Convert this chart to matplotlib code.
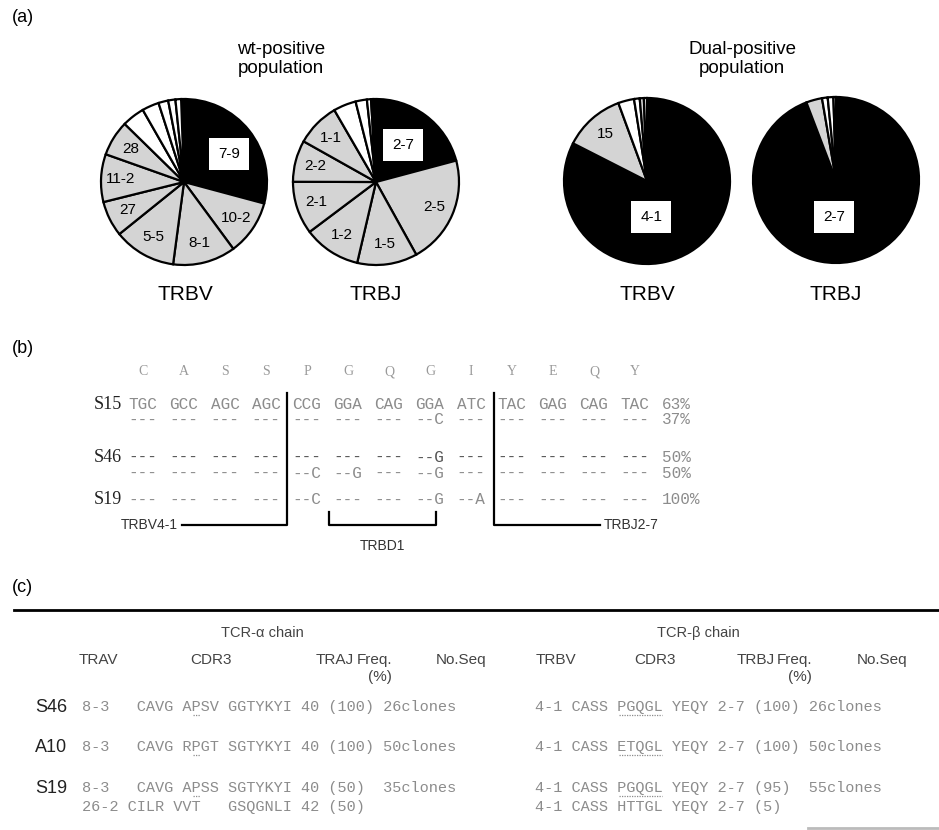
import numpy as np
import matplotlib.pyplot as plt

W, H = 939, 830

# ---- (a) pie data: share of clones (%), clockwise from 12 o'clock
wt_trbv_sizes = [29.7, 10.7, 12.2, 12.1, 6.9, 9.3, 6.9, 4.4, 3.3, 1.9, 1.4, 1.1]
wt_trbv_labels = ['7-9', '10-2', '8-1', '5-5', '27', '11-2', '28', '', '', '', '', '']
wt_trbv_fill = ['k', 'g', 'g', 'g', 'g', 'g', 'g', 'w', 'w', 'w', 'w', 'w']

wt_trbj_sizes = [21.4, 21.1, 11.7, 11.1, 10.3, 8.1, 8.5, 4.4, 2.2, 0.8, 0.4]
wt_trbj_labels = ['2-7', '2-5', '1-5', '1-2', '2-1', '2-2', '1-1', '', '', '', '']
wt_trbj_fill = ['k', 'g', 'g', 'g', 'g', 'g', 'g', 'w', 'w', 'w', 'w']

dp_trbv_sizes = [82.5, 11.9, 3.1, 1.1, 0.8, 0.6]
dp_trbv_labels = ['4-1', '15', '', '', '', '']
dp_trbv_fill = ['k', 'g', 'w', 'w', 'g', 'w']

dp_trbj_sizes = [94.2, 3.1, 1.1, 1.1, 0.5]
dp_trbj_labels = ['2-7', '', '', '', '']
dp_trbj_fill = ['k', 'g', 'w', 'w', 'w']

FILL = {'k': 'black', 'g': '#d4d4d4', 'w': 'white'}

# ---- (b) CDR3 sequence alignment
amino = ['C', 'A', 'S', 'S', 'P', 'G', 'Q', 'G', 'I', 'Y', 'E', 'Q', 'Y']
s15_1 = ['TGC', 'GCC', 'AGC', 'AGC', 'CCG', 'GGA', 'CAG', 'GGA', 'ATC', 'TAC', 'GAG', 'CAG', 'TAC']
s15_2 = ['---', '---', '---', '---', '---', '---', '---', '--C', '---', '---', '---', '---', '---']
s46_1 = ['---', '---', '---', '---', '---', '---', '---', '--G', '---', '---', '---', '---', '---']
s46_2 = ['---', '---', '---', '---', '--C', '--G', '---', '--G', '---', '---', '---', '---', '---']
s19_1 = ['---', '---', '---', '---', '--C', '---', '---', '--G', '--A', '---', '---', '---', '---']
seq_rows = [s15_1, s15_2, s46_1, s46_2, s19_1]
seq_freq = ['63%', '37%', '50%', '50%', '100%']
seq_names = ['S15', '', 'S46', '', 'S19']

# ---- (c) TCR table
alpha_headers = ['TRAV', 'CDR3', 'TRAJ', 'Freq.', 'No.Seq']
beta_headers = ['TRBV', 'CDR3', 'TRBJ', 'Freq.', 'No.Seq']
clone_names = ['S46', 'A10', 'S19', '']
alpha_rows = ['8-3   CAVG APSV GGTYKYI 40 (100) 26clones',
              '8-3   CAVG RPGT SGTYKYI 40 (100) 50clones',
              '8-3   CAVG APSS SGTYKYI 40 (50)  35clones',
              '26-2 CILR VVT   GSQGNLI 42 (50)']
beta_rows = ['4-1 CASS PGQGL YEQY 2-7 (100) 26clones',
             '4-1 CASS ETQGL YEQY 2-7 (100) 50clones',
             '4-1 CASS PGQGL YEQY 2-7 (95)  55clones',
             '4-1 CASS HTTGL YEQY 2-7 (5)']
# underlined residues: (first char, n chars) inside each row string
alpha_under = [(12, 1), (12, 1), (12, 1), None]
beta_under = [(9, 5), (9, 5), (9, 5), None]

SANS = 'Liberation Sans'
MONO = 'Liberation Mono'
SEQ_GRAY = '#8c8c8c'
HEAD = '#444444'


def Y(y):
    return H - y


fig = plt.figure(figsize=(W / 100, H / 100), dpi=100)
ax = fig.add_axes([0, 0, 1, 1])


def draw_pie(cx, cy, sizes, labels, fill, start, box_at, label_r=0.76, r=83):
    wedges, _ = ax.pie(sizes, colors=[FILL[f] for f in fill], startangle=start,
                       counterclock=False, center=(cx, Y(cy)), radius=r, frame=True,
                       wedgeprops=dict(edgecolor='black', linewidth=1.6))
    for i, (w, lab) in enumerate(zip(wedges, labels)):
        if not lab:
            continue
        if i == 0:
            # the black slice gets its label in a white box
            ax.text(cx + box_at[0] * r, Y(cy) + box_at[1] * r, lab, ha='center', va='center',
                    fontsize=11, family=SANS,
                    bbox=dict(facecolor='white', edgecolor='none', pad=6.5))
        else:
            mid = np.deg2rad((w.theta1 + w.theta2) / 2)
            ax.text(cx + label_r * r * np.cos(mid), Y(cy) + label_r * r * np.sin(mid), lab,
                    ha='center', va='center', fontsize=11, family=SANS)


draw_pie(184, 182, wt_trbv_sizes, wt_trbv_labels, wt_trbv_fill, 92, (0.54, 0.34))
draw_pie(376, 182, wt_trbj_sizes, wt_trbj_labels, wt_trbj_fill, 92, (0.33, 0.45))
draw_pie(647, 181, dp_trbv_sizes, dp_trbv_labels, dp_trbv_fill, 90, (0.05, -0.43))
draw_pie(836, 180, dp_trbj_sizes, dp_trbj_labels, dp_trbj_fill, 90, (-0.02, -0.45))

for x, t in [(185, 'TRBV'), (376, 'TRBJ'), (647, 'TRBV'), (836, 'TRBJ')]:
    ax.text(x, Y(295), t, ha='center', va='center', fontsize=15, family=SANS)
ax.text(281, Y(59), 'wt-positive\npopulation', ha='center', va='center',
        fontsize=13.5, family=SANS, linespacing=1.2)
ax.text(742, Y(59), 'Dual-positive\npopulation', ha='center', va='center',
        fontsize=13.5, family=SANS, linespacing=1.2)

for y, t in [(18, '(a)'), (349, '(b)'), (587, '(c)')]:
    ax.text(12, Y(y), t, ha='left', va='center', fontsize=13, family=SANS)

# ---- (b)
col0, step = 143, 41
row_y = [405, 420, 457, 473, 500]
for i, a in enumerate(amino):
    ax.text(col0 + i * step, Y(372), a, ha='center', va='center', fontsize=10,
            family='Liberation Serif', color='#9a9a9a')
for r, (codons, fq, nm, y) in enumerate(zip(seq_rows, seq_freq, seq_names, row_y)):
    col = '#555555' if r == 2 else SEQ_GRAY
    for i, c in enumerate(codons):
        ax.text(col0 + i * step, Y(y), c, ha='center', va='center', fontsize=11.5,
                family=MONO, color=col)
    ax.text(662, Y(y), fq, ha='left', va='center', fontsize=11.5, family=MONO, color=SEQ_GRAY)
    if nm:
        ax.text(108, Y(y), nm, ha='center', va='center', fontsize=13,
                family='Liberation Serif', color='#222222')

ax.plot([287, 287, 182], [Y(393), Y(525), Y(525)], color='black', lw=1.6)
ax.plot([494, 494, 600], [Y(393), Y(525), Y(525)], color='black', lw=1.6)
ax.plot([329, 329, 436, 436], [Y(512), Y(525), Y(525), Y(512)], color='black', lw=1.6)
ax.text(178, Y(525), 'TRBV4-1', ha='right', va='center', fontsize=10, family=SANS, color='#333333')
ax.text(604, Y(525), 'TRBJ2-7', ha='left', va='center', fontsize=10, family=SANS, color='#333333')
ax.text(382, Y(546), 'TRBD1', ha='center', va='center', fontsize=10, family=SANS, color='#333333')

# ---- (c)
ax.plot([14, W], [Y(610), Y(610)], color='black', lw=2)
ax.plot([808, W], [Y(828), Y(828)], color='#bbbbbb', lw=2)
ax.text(262, Y(633), 'TCR-\u03b1 chain', ha='center', va='center', fontsize=10.5,
        family=SANS, color=HEAD)
ax.text(698, Y(633), 'TCR-\u03b2 chain', ha='center', va='center', fontsize=10.5,
        family=SANS, color=HEAD)
for xs, heads in [([98, 211, 335, 375, 461], alpha_headers),
                  ([556, 655, 756, 795, 882], beta_headers)]:
    for x, t in zip(xs, heads):
        ax.text(x, Y(660), t, ha='center', va='center', fontsize=11, family=SANS, color=HEAD)
    ax.text(xs[3] + 5, Y(677), '(%)', ha='center', va='center', fontsize=11, family=SANS,
            color=HEAD)

tab_y = [707, 747, 788, 807]
fs_tab = 11
cw = 0.6 * fs_tab * 100 / 72          # advance of one monospace character in pixels
for nm, a, b, ua, ub, y in zip(clone_names, alpha_rows, beta_rows, alpha_under, beta_under, tab_y):
    if nm:
        ax.text(51, Y(y), nm, ha='center', va='center', fontsize=13, family=SANS,
                color='#222222')
    for x0, s, u in [(82, a, ua), (535, b, ub)]:
        ax.text(x0, Y(y), s, ha='left', va='center', fontsize=fs_tab, family=MONO,
                color=SEQ_GRAY)
        if u:
            ax.plot([x0 + u[0] * cw + 1, x0 + (u[0] + u[1]) * cw - 1], [Y(y + 8), Y(y + 8)],
                    color=SEQ_GRAY, lw=0.9, ls=(0, (1, 1)))

ax.set_xlim(0, W)
ax.set_ylim(0, H)
ax.axis('off')
fig.savefig('out.png', dpi=100)
